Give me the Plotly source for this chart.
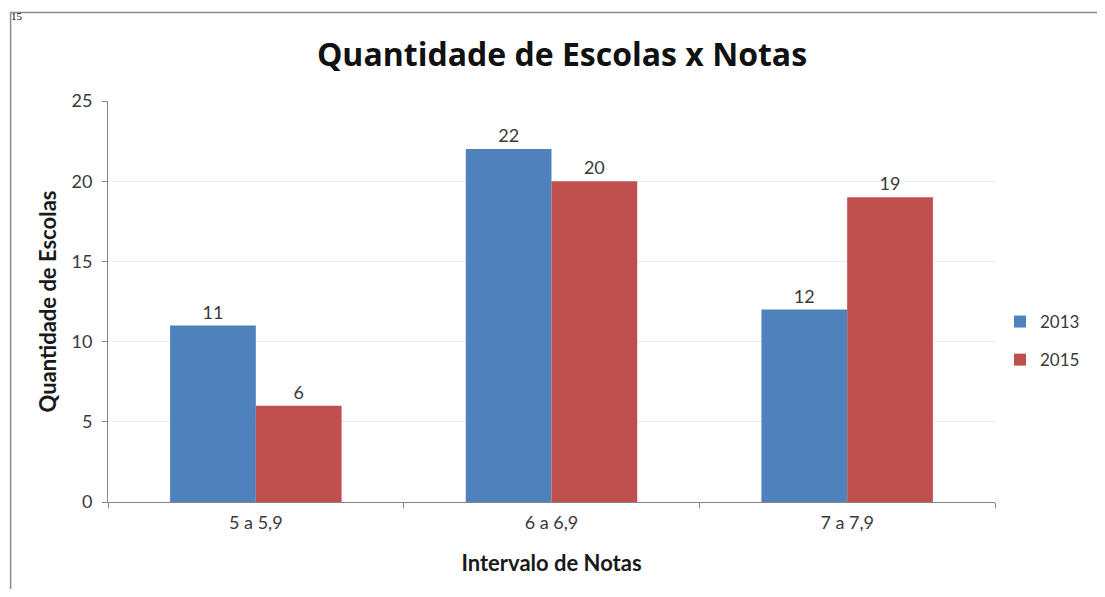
import plotly.graph_objects as go

categories = ["5 a 5,9", "6 a 6,9", "7 a 7,9"]
series_names = ["2013", "2015"]
values_2013 = [11, 22, 12]
values_2015 = [6, 20, 19]
colors = ["#4F81BD", "#C0504D"]

# page has an 8px body margin on every side; lay the figure out in page pixels
OFF = 8
W, H = 1105 - 2 * OFF, 597 - 2 * OFF
L, T = 108 - OFF, 101 - OFF
R = W - (1005 - OFF)
B = H - (502 - OFF)
pw, ph = W - L - R, H - T - B


def px_x(x):
    return (x - OFF - L) / pw


def px_y(y):
    return (H - B - (y - OFF)) / ph


font_family = "Lato, Open Sans, sans-serif"
text_col = "#3A3A3A"

fig = go.Figure()
for name, vals, col in zip(series_names, [values_2013, values_2015], colors):
    fig.add_trace(go.Bar(
        x=categories, y=vals, name=name, legendgroup=name,
        marker=dict(color=col, line=dict(width=0)),
        text=[str(v) for v in vals], textposition="outside",
        textfont=dict(size=18, color=text_col, family=font_family),
        cliponaxis=False,
    ))

fig.update_layout(
    width=W, height=H,
    margin=dict(l=L, r=R, t=T, b=B),
    paper_bgcolor="white", plot_bgcolor="white",
    barmode="group", bargap=0.42, bargroupgap=0,
    font=dict(family=font_family, color=text_col),
    title=dict(text="<b>Quantidade de Escolas x Notas</b>",
               x=(562 - OFF) / W, xanchor="center",
               y=1 - (55 - OFF) / H, yanchor="middle",
               font=dict(size=32, color="#111111", family="Open Sans, Lato, sans-serif")),
    legend=dict(x=px_x(1096), y=px_y(341),
                xanchor="right", yanchor="middle",
                font=dict(size=17, color=text_col), tracegroupgap=13,
                itemwidth=30, bgcolor="rgba(0,0,0,0)"),
    xaxis=dict(
        showline=True, linecolor="#868686", linewidth=1,
        ticks="outside", ticklen=5, tickcolor="#868686", tickson="boundaries",
        tickfont=dict(size=18, color=text_col),
        ticklabelstandoff=4,
        title=dict(text="<b>Intervalo de Notas</b>", font=dict(size=22, color="#1A1A1A"), standoff=24),
        showgrid=False,
    ),
    yaxis=dict(
        range=[0, 25], dtick=5,
        showline=True, linecolor="#868686", linewidth=1,
        ticks="outside", ticklen=5, tickcolor="#868686",
        tickfont=dict(size=18, color=text_col),
        ticklabelstandoff=6,
        showgrid=True, gridcolor="#EDEDED", gridwidth=1,
        zeroline=False,
        title=dict(text="<b>Quantidade de Escolas</b>", font=dict(size=22, color="#1A1A1A"), standoff=8),
    ),
)

# outer chart frame
fig.add_shape(type="rect", xref="paper", yref="paper",
              x0=px_x(9.5), x1=px_x(1110), y0=px_y(610), y1=px_y(12.5),
              line=dict(color="#8C8C8C", width=1.5), fillcolor="rgba(0,0,0,0)", layer="below")

fig.add_annotation(text="15", xref="paper", yref="paper", x=px_x(8), y=px_y(8),
                   xanchor="left", yanchor="top", showarrow=False,
                   font=dict(size=11, color="#000000", family="Liberation Serif, serif"))

fig.write_html("out.html")
